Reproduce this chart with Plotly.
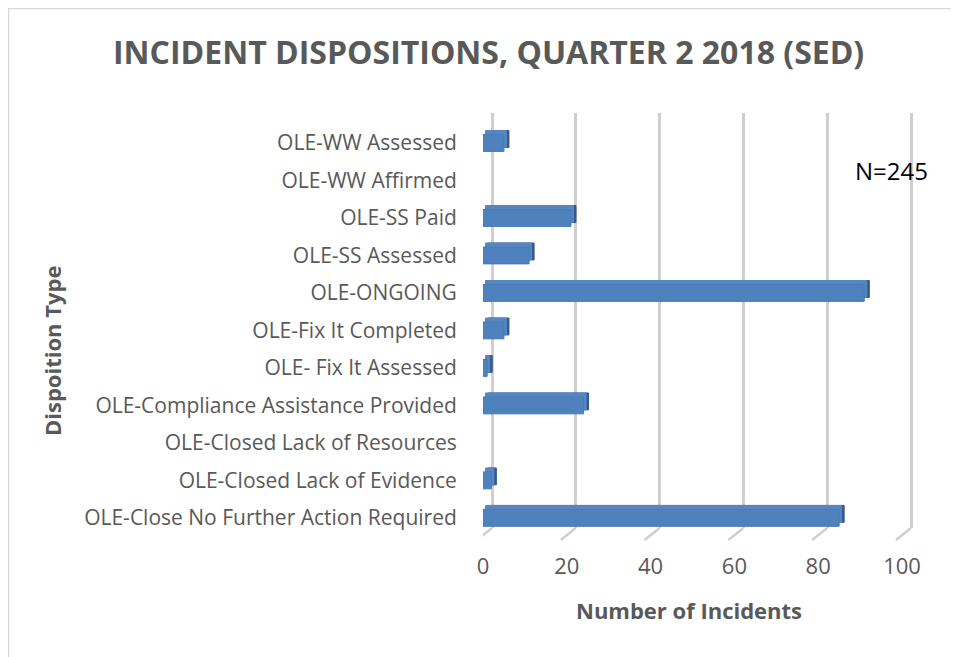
import plotly.graph_objects as go

categories = [
    "OLE-Close No Further Action Required",
    "OLE-Closed Lack of Evidence",
    "OLE-Closed Lack of Resources",
    "OLE-Compliance Assistance Provided",
    "OLE- Fix It Assessed",
    "OLE-Fix It Completed",
    "OLE-ONGOING",
    "OLE-SS Assessed",
    "OLE-SS Paid",
    "OLE-WW Affirmed",
    "OLE-WW Assessed",
]
values = [85, 2, 0, 24, 1, 5, 91, 11, 21, 0, 5]
x_ticks = [0, 20, 40, 60, 80, 100]

OFF = 8                      # page body margin
W, H = 959 - OFF, 657 - OFF
UNIT = 4.19                  # px per incident
ml = 483 - OFF
pw = 430
mt = 113 - OFF
mb = H - (528 - OFF)
mr = W - ml - pw
ph = H - mt - mb
XMAX = pw / UNIT
DEPTH_BAR = 5 / UNIT         # 3-D bar depth (in value units)
DEPTH_WALL = 9 / UNIT        # back wall offset (in value units)
LIFT = 4 / 37.5              # 3-D bar lift (in category units)

def px(x):
    return (x - OFF - ml) / pw

def py(y):
    return 1 - (y - OFF - mt) / ph

grey = "#595959"
font = "Open Sans"
lw = [1 if v > 0 else 0 for v in values]

fig = go.Figure()
# side face (darkest, furthest back)
fig.add_trace(go.Bar(
    y=categories, x=values, orientation="h", xaxis="x", yaxis="y",
    marker=dict(color="#34598a", line=dict(color="#34598a", width=lw)),
    width=0.45, offset=-0.225 + LIFT, hoverinfo="skip",
))
# top face
fig.add_trace(go.Bar(
    y=categories, x=values, orientation="h", xaxis="x2", yaxis="y",
    marker=dict(color="#5787c2", line=dict(color="#5787c2", width=lw)),
    width=0.45, offset=-0.225 + LIFT, hoverinfo="skip",
))
# front face
fig.add_trace(go.Bar(
    y=categories, x=values, orientation="h", xaxis="x3", yaxis="y",
    marker=dict(color="#4f81bd", line=dict(color="#4a7bb6", width=lw)),
    width=0.45, offset=-0.225, hoverinfo="x+y",
))
# carrier for the back-wall grid axis
fig.add_trace(go.Scatter(
    x=x_ticks, y=[categories[0]] * len(x_ticks), xaxis="x4", yaxis="y",
    mode="markers", marker=dict(opacity=0), hoverinfo="skip",
))

fig.update_layout(
    width=W, height=H,
    margin=dict(l=ml, r=mr, t=mt, b=mb),
    paper_bgcolor="white", plot_bgcolor="white",
    showlegend=False,
    font=dict(family=font, color=grey),
    xaxis=dict(range=[-DEPTH_BAR, XMAX - DEPTH_BAR], visible=False),
    xaxis2=dict(overlaying="x", anchor="y",
                range=[-DEPTH_BAR / 2, XMAX - DEPTH_BAR / 2], visible=False),
    xaxis3=dict(
        overlaying="x", anchor="y", side="bottom",
        range=[0, XMAX], tickvals=x_ticks, ticktext=[str(t) for t in x_ticks],
        showgrid=False, zeroline=False, showline=False,
        ticks="outside", ticklen=19, tickcolor="rgba(0,0,0,0)",
        tickfont=dict(family=font, size=22, color=grey),
    ),
    xaxis4=dict(
        overlaying="x", anchor="y", side="bottom",
        range=[-DEPTH_WALL, XMAX - DEPTH_WALL], tickvals=x_ticks,
        showticklabels=False, ticks="",
        showgrid=True, gridcolor="#cfcfcf", gridwidth=2.5,
        zeroline=False, showline=False,
    ),
    yaxis=dict(
        type="category", categoryorder="array", categoryarray=categories,
        range=[-0.27, 10.8],
        showgrid=False, zeroline=False, showline=False,
        ticks="outside", ticklen=21, tickcolor="rgba(0,0,0,0)",
        tickfont=dict(family=font, size=21, color=grey),
    ),
)

# floor diagonals at the foot of each grid line
for v in x_ticks:
    fig.add_shape(type="line", xref="x4", yref="paper",
                  x0=v, y0=py(528), x1=v - 15 / UNIT, y1=py(540),
                  line=dict(color="#cfcfcf", width=2.5))

def label(text, x, y, size, color=grey, angle=0):
    fig.add_annotation(text=text, x=px(x), y=py(y), xref="paper", yref="paper",
                       xanchor="center", yanchor="middle", textangle=angle,
                       showarrow=False, font=dict(family=font, size=size, color=color))

label("<b>INCIDENT DISPOSITIONS, QUARTER 2 2018 (SED)</b>", 488, 52, 32)
label("<b>Number of Incidents</b>", 689, 610, 22)
label("<b>Dispoition Type</b>", 52, 351, 22, angle=-90)
label("N=245", 891, 170, 24, color="black")

# chart border
fig.add_shape(type="rect", xref="paper", yref="paper",
              x0=px(8.5), x1=px(1000), y0=py(8.5), y1=py(700),
              line=dict(color="#d9d9d9", width=1.5), layer="below")
fig.write_html("out.html")
